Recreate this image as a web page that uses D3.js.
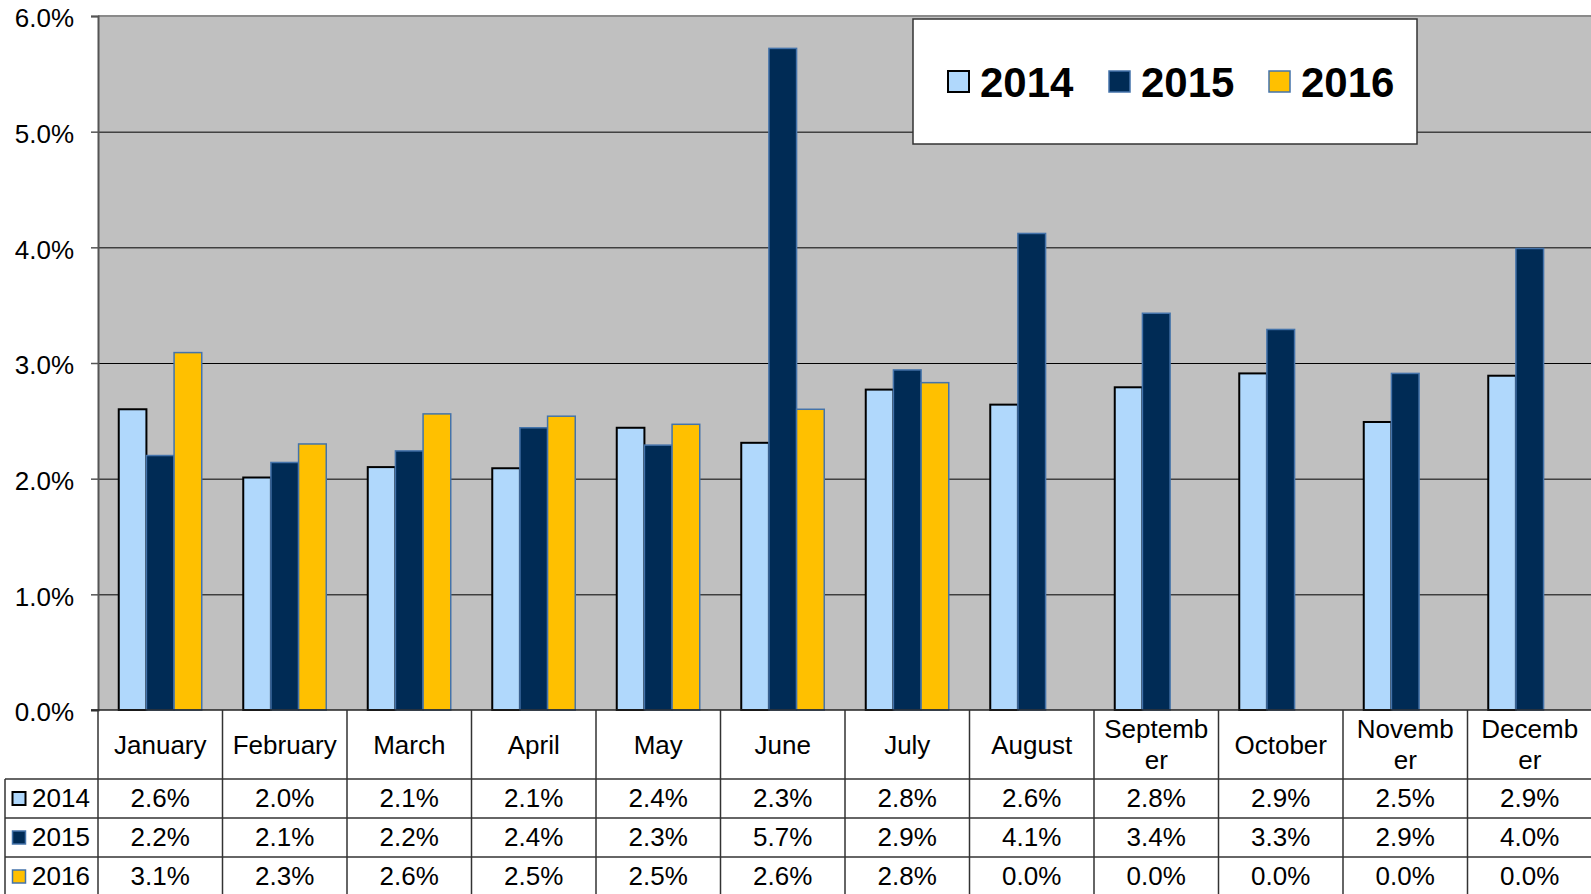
<!DOCTYPE html>
<html>
<head>
<meta charset="utf-8">
<script src="https://cdn.jsdelivr.net/npm/d3@7"></script>
<style>
  body { margin: 0; background: #fff; }
  text { font-family: Arial, "Liberation Sans", sans-serif; fill: #000; }
</style>
</head>
<body>
<div id="chart"></div>
<script>
// data (percent)
var months = ["January","February","March","April","May","June","July","August","September","October","November","December"];
var seriesNames = ["2014","2015","2016"];
var values2014 = [2.60, 2.01, 2.10, 2.09, 2.44, 2.31, 2.77, 2.64, 2.79, 2.91, 2.49, 2.89];
var values2015 = [2.20, 2.14, 2.24, 2.44, 2.29, 5.72, 2.94, 4.12, 3.43, 3.29, 2.91, 3.99];
var values2016 = [3.09, 2.30, 2.56, 2.54, 2.47, 2.60, 2.83, 0, 0, 0, 0, 0];
var yTicks = [0, 1, 2, 3, 4, 5, 6];

var allValues = [values2014, values2015, values2016];
var fills = ["#b0d8fc", "#002b55", "#ffc000"];
var strokes = ["#000000", "#4473aa", "#4473aa"];
var strokeW = [2, 1.5, 1.5];

var width = 1591, height = 894;
var plotLeft = 98, plotRight = 1592, plotTop = 16, plotBottom = 710;
var headerH = 69, rowH = 39, tableLeft = 5;
var fontSize = "26px";

var xScale = d3.scaleBand().domain(months).range([plotLeft, plotRight]),
    yScale = d3.scaleLinear().domain([0, 6]).range([plotBottom, plotTop]);
var bw = xScale.bandwidth() / 4.5;
var xSeries = d3.scaleBand().domain(seriesNames)
    .range([bw * 0.75, xScale.bandwidth() - bw * 0.75]);

var svg = d3.select("#chart").append("svg")
    .attr("width", width)
    .attr("height", height);

// plot background
svg.append("rect")
    .attr("x", plotLeft).attr("y", plotTop)
    .attr("width", plotRight - plotLeft).attr("height", plotBottom - plotTop)
    .attr("fill", "#c0c0c0");

// gridlines
svg.selectAll(".grid")
    .data(yTicks.filter(function(d) { return d > 0 && d < 6; }))
    .enter().append("line")
    .attr("x1", plotLeft).attr("x2", plotRight)
    .attr("y1", function(d) { return yScale(d) + 0.5; })
    .attr("y2", function(d) { return yScale(d) + 0.5; })
    .attr("stroke", "#000").attr("stroke-width", 1);
svg.append("line")
    .attr("x1", plotLeft).attr("x2", plotRight)
    .attr("y1", plotTop).attr("y2", plotTop)
    .attr("stroke", "#8a8a8a").attr("stroke-width", 2);

// y axis
var yAxis = svg.append("g")
    .attr("transform", "translate(" + plotLeft + ",0)")
    .call(d3.axisLeft(yScale).tickValues(yTicks).tickSize(7).tickPadding(17)
        .tickFormat(function(d) { return d.toFixed(1) + "%"; }));
yAxis.select(".domain").attr("stroke", "#555").attr("stroke-width", 2);
yAxis.selectAll(".tick line").attr("stroke", "#555").attr("stroke-width", 1.5);
yAxis.selectAll(".tick text")
    .style("font-size", fontSize)
    .attr("font-family", null)
    .attr("dy", "0.41em");

// bars
var group = svg.selectAll(".month")
    .data(months)
    .enter().append("g")
    .attr("class", "month")
    .attr("transform", function(d) { return "translate(" + xScale(d) + ",0)"; });

group.selectAll("rect")
    .data(function(m, i) {
      return seriesNames.map(function(s, k) { return {s: s, k: k, v: allValues[k][i]}; })
        .filter(function(d) { return d.v > 0; });
    })
    .enter().append("rect")
    .attr("x", function(d) { return xSeries(d.s); })
    .attr("width", xSeries.bandwidth())
    .attr("y", function(d) { return yScale(d.v); })
    .attr("height", function(d) { return yScale(0) - yScale(d.v); })
    .attr("fill", function(d) { return fills[d.k]; })
    .attr("stroke", function(d) { return strokes[d.k]; })
    .attr("stroke-width", function(d) { return strokeW[d.k]; });

// baseline
svg.append("line")
    .attr("x1", plotLeft - 7).attr("x2", plotRight)
    .attr("y1", plotBottom).attr("y2", plotBottom)
    .attr("stroke", "#222").attr("stroke-width", 1.5);

//////////////////////////////////////
// data table under the chart
//////////////////////////////////////
var table = svg.append("g");
var tableBottom = plotBottom + headerH + rowH * 3 + 2;
var lineColor = "#333";

// vertical lines between months
table.selectAll(".vline")
    .data(months.concat(["end"]))
    .enter().append("line")
    .attr("x1", function(d) { return d == "end" ? plotRight : xScale(d); })
    .attr("x2", function(d) { return d == "end" ? plotRight : xScale(d); })
    .attr("y1", plotBottom).attr("y2", tableBottom)
    .attr("stroke", lineColor).attr("stroke-width", 1.5);
table.append("line")
    .attr("x1", tableLeft).attr("x2", tableLeft)
    .attr("y1", plotBottom + headerH).attr("y2", tableBottom)
    .attr("stroke", lineColor).attr("stroke-width", 1.5);
table.selectAll(".hline")
    .data([0, 1, 2])
    .enter().append("line")
    .attr("x1", tableLeft).attr("x2", plotRight)
    .attr("y1", function(d) { return plotBottom + headerH + d * rowH; })
    .attr("y2", function(d) { return plotBottom + headerH + d * rowH; })
    .attr("stroke", lineColor).attr("stroke-width", 1.5);

// month headers, wrapped by character like the spreadsheet does
var maxW = 107;
var headers = table.selectAll(".head")
    .data(months)
    .enter().append("text")
    .attr("class", "head")
    .attr("text-anchor", "middle")
    .style("font-size", fontSize)
    .attr("x", function(d) { return xScale(d) + xScale.bandwidth() / 2; })
    .attr("y", plotBottom + 44)
    .text(function(d) { return d; });
headers.each(function(d) {
  var t = d3.select(this);
  if (this.getComputedTextLength() <= maxW) return;
  var cut = d.length;
  while (cut > 1) {
    t.text(d.slice(0, cut));
    if (this.getComputedTextLength() <= maxW) break;
    cut--;
  }
  var x = t.attr("x");
  t.text(null).attr("y", plotBottom + 28);
  t.append("tspan").attr("x", x).text(d.slice(0, cut));
  t.append("tspan").attr("x", x).attr("dy", 31).text(d.slice(cut));
});

// rows
var rows = table.selectAll(".row")
    .data(seriesNames)
    .enter().append("g")
    .attr("class", "row")
    .attr("transform", function(d, i) { return "translate(0," + (plotBottom + headerH + i * rowH) + ")"; });

rows.append("rect")
    .attr("x", 12.5).attr("y", 13)
    .attr("width", 13).attr("height", 13)
    .attr("fill", function(d, i) { return fills[i]; })
    .attr("stroke", function(d, i) { return strokes[i]; })
    .attr("stroke-width", function(d, i) { return i == 0 ? 2 : 1.5; });
rows.append("text")
    .attr("x", 32).attr("y", 28)
    .style("font-size", fontSize)
    .text(function(d) { return d; });

rows.selectAll(".val")
    .data(function(d, i) { return allValues[i]; })
    .enter().append("text")
    .attr("class", "val")
    .attr("text-anchor", "middle")
    .attr("x", function(d, j) { return xScale(months[j]) + xScale.bandwidth() / 2; })
    .attr("y", 28)
    .style("font-size", fontSize)
    .text(function(d) { return d.toFixed(1) + "%"; });

//////////////////////////////////////
// legend
//////////////////////////////////////
var legend = svg.append("g");
legend.append("rect")
    .attr("x", 913).attr("y", 19)
    .attr("width", 504).attr("height", 125)
    .attr("fill", "#fff")
    .attr("stroke", "#333").attr("stroke-width", 1.5);
var legendX = [947, 1108, 1268];
var item = legend.selectAll(".item")
    .data(seriesNames)
    .enter().append("g")
    .attr("transform", function(d, i) { return "translate(" + legendX[i] + ",0)"; });
item.append("rect")
    .attr("x", 1).attr("y", 71)
    .attr("width", 21).attr("height", 21)
    .attr("fill", function(d, i) { return fills[i]; })
    .attr("stroke", function(d, i) { return strokes[i]; })
    .attr("stroke-width", function(d, i) { return i == 0 ? 2 : 1.5; });
item.append("text")
    .attr("x", 33).attr("y", 97)
    .style("font-size", "42px")
    .style("font-weight", "bold")
    .text(function(d) { return d; });
</script>
</body>
</html>
